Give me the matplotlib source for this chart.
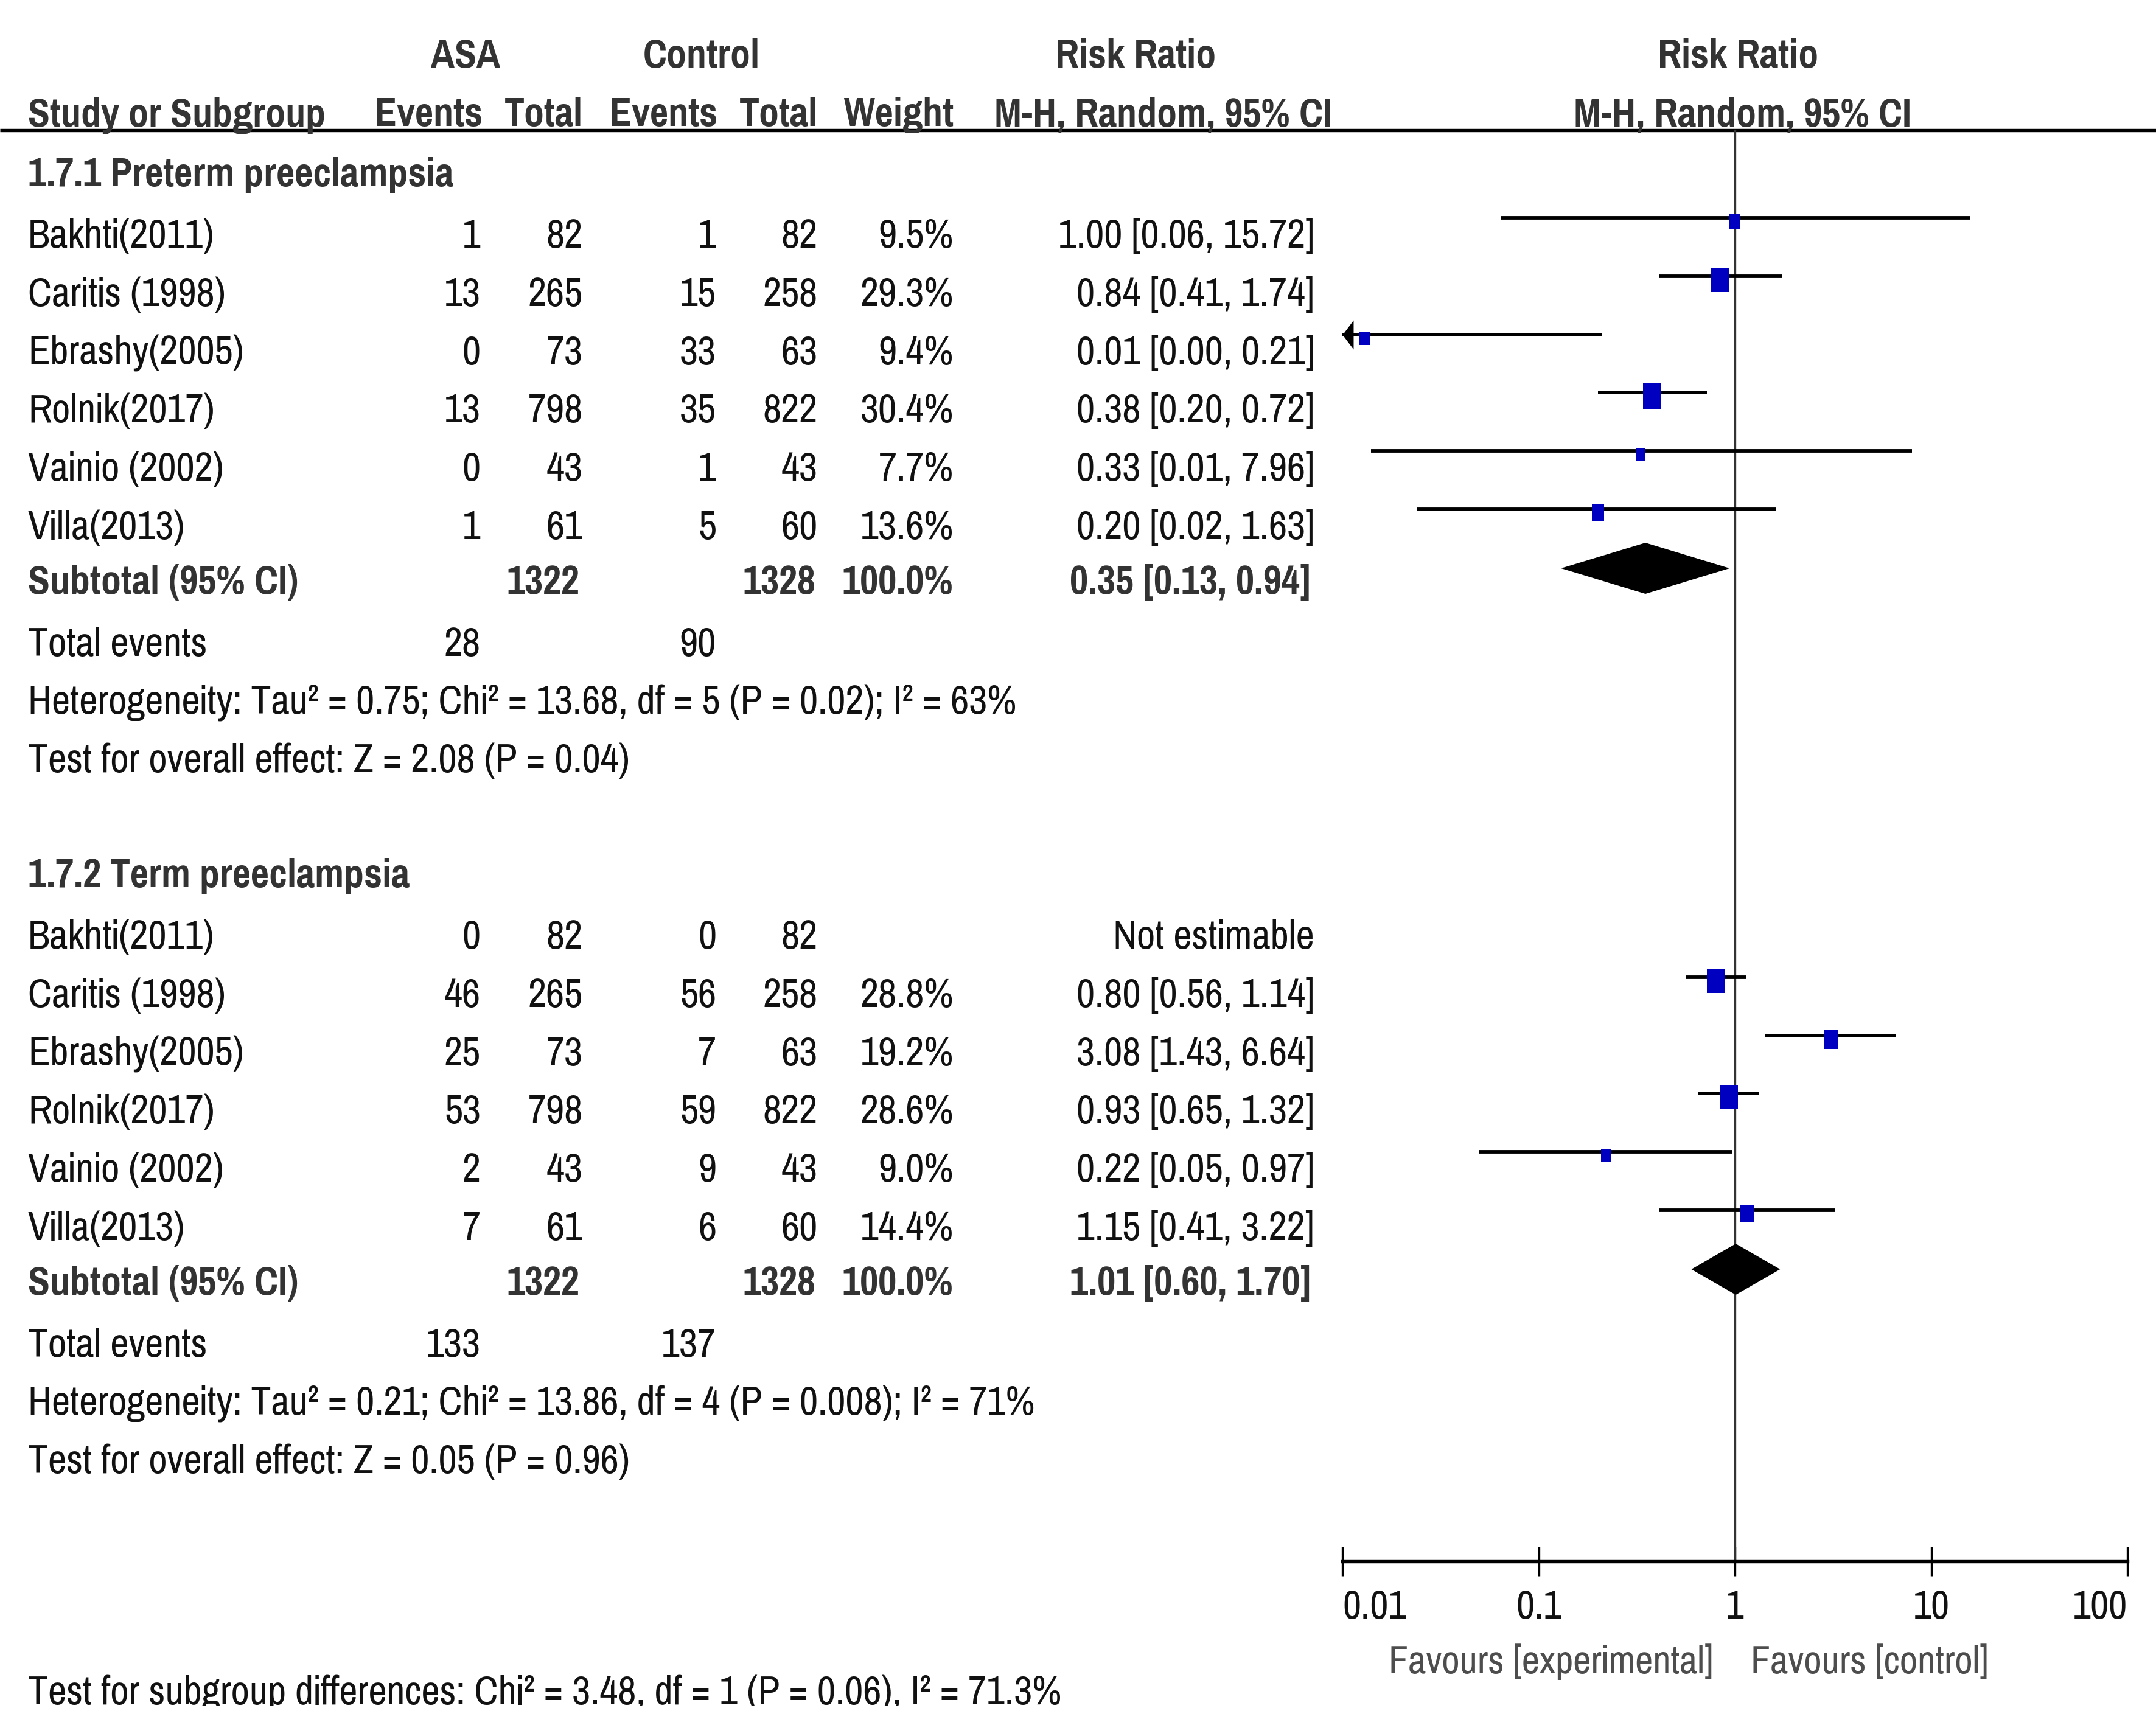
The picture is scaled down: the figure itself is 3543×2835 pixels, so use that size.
# forest plot: ASA vs control, preterm / term preeclampsia

import numpy as np
import matplotlib
matplotlib.use('Agg')
import matplotlib.pyplot as plt
from matplotlib.path import Path
from matplotlib.ticker import NullLocator

plt.rcParams['font.family'] = ['Pragati Narrow', 'DejaVu Sans']

# ---- data ----
studies = ['Bakhti(2011)', 'Caritis (1998)', 'Ebrashy(2005)', 'Rolnik(2017)', 'Vainio (2002)', 'Villa(2013)']
asa_total = [82, 265, 73, 798, 43, 61]
ctl_total = [82, 258, 63, 822, 43, 60]

pre_asa_events = [1, 13, 0, 13, 0, 1]
pre_ctl_events = [1, 15, 33, 35, 1, 5]
pre_weight = [9.5, 29.3, 9.4, 30.4, 7.7, 13.6]
pre_rr = [1.00, 0.84, 0.013, 0.38, 0.33, 0.20]
pre_lo = [0.064, 0.41, 0.00, 0.20, 0.014, 0.024]
pre_hi = [15.72, 1.74, 0.21, 0.72, 7.96, 1.63]
pre_sub = [0.35, 0.13, 0.94]
pre_het = 'Heterogeneity: Tau² = 0.75; Chi² = 13.68, df = 5 (P = 0.02); I² = 63%'
pre_test = 'Test for overall effect: Z = 2.08 (P = 0.04)'

term_asa_events = [0, 46, 25, 53, 2, 7]
term_ctl_events = [0, 56, 7, 59, 9, 6]
term_weight = [None, 28.8, 19.2, 28.6, 9.0, 14.4]
term_rr = [None, 0.80, 3.08, 0.93, 0.22, 1.15]
term_lo = [None, 0.56, 1.43, 0.65, 0.05, 0.41]
term_hi = [None, 1.14, 6.64, 1.32, 0.97, 3.22]
term_sub = [1.01, 0.60, 1.70]
term_het = 'Heterogeneity: Tau² = 0.21; Chi² = 13.86, df = 4 (P = 0.008); I² = 71%'
term_test = 'Test for overall effect: Z = 0.05 (P = 0.96)'

subgroup_test = 'Test for subgroup differences: Chi² = 3.48, df = 1 (P = 0.06), I² = 71.3%'

tick_vals = [0.01, 0.1, 1, 10, 100]
tick_labels = ['0.01', '0.1', '1', '10', '100']

# ---- layout (pixels from top-left) ----
W, H = 3543, 2835
clip_h = 2803
FS = 17.2
dark = '#333333'
ink = '#111111'
blue = '#0000c0'

col_name = 46
col_ae, col_at = 790, 958
col_ce, col_ct = 1177, 1344
col_w = 1567
col_rr = 2160
step = 95.8
base = 24   # cap centre -> baseline

fig = plt.figure(figsize=(W / 300, H / 300), dpi=300)
tab = fig.add_axes([0, 1 - clip_h / H, 1, clip_h / H])
tab.set_xlim(0, W)
tab.set_ylim(clip_h, 0)
tab.axis('off')

x0, x1 = 2206, 3496
fp = fig.add_axes([x0 / W, 0, (x1 - x0) / W, 1])
fp.set_xscale('log')
fp.set_xlim(0.01, 100)
fp.set_ylim(H, 0)
fp.patch.set_visible(False)
for s in ['top', 'left', 'right']:
    fp.spines[s].set_visible(False)
axis_y = 2566
fp.spines['bottom'].set_position(('data', axis_y))
fp.spines['bottom'].set_linewidth(1.3)
fp.set_xticks(tick_vals)
fp.xaxis.set_minor_locator(NullLocator())
fp.tick_params(axis='x', which='major', direction='inout', length=11.5, width=0.8, labelbottom=False)
fp.set_yticks([])
for v, lab, ha in zip(tick_vals, tick_labels, ['left', 'center', 'center', 'center', 'right']):
    fp.text(v, 2660, lab, ha=ha, va='baseline', fontsize=FS, color=ink)

fp.annotate('Favours [experimental]', xy=(1, 2750), xytext=(-8.4, 0), textcoords='offset points',
            ha='right', va='baseline', fontsize=FS * 0.97, color='#4d4d4d', annotation_clip=False)
fp.annotate('Favours [control]', xy=(1, 2750), xytext=(6.2, 0), textcoords='offset points',
            ha='left', va='baseline', fontsize=FS * 0.97, color='#4d4d4d', annotation_clip=False)

# header
hdr1, hdr2 = 111, 207
tab.text(765, hdr1, 'ASA', ha='center', va='baseline', fontsize=FS, weight='bold', color=dark)
tab.text(1153, hdr1, 'Control', ha='center', va='baseline', fontsize=FS, weight='bold', color=dark)
tab.text(1866, hdr1, 'Risk Ratio', ha='center', va='baseline', fontsize=FS, weight='bold', color=dark)
tab.text(2856, hdr1, 'Risk Ratio', ha='center', va='baseline', fontsize=FS, weight='bold', color=dark)
tab.text(col_name, hdr2, 'Study or Subgroup', ha='left', va='baseline', fontsize=FS, weight='bold', color=dark)
for x, t in [(793, 'Events'), (col_at, 'Total'), (1179, 'Events'), (col_ct, 'Total'), (col_w, 'Weight')]:
    tab.text(x, hdr2, t, ha='right', va='baseline', fontsize=FS, weight='bold', color=dark)
tab.text(1912, hdr2, 'M-H, Random, 95% CI', ha='center', va='baseline', fontsize=FS, weight='bold', color=dark)
tab.text(2864, hdr2, 'M-H, Random, 95% CI', ha='center', va='baseline', fontsize=FS, weight='bold', color=dark)
tab.plot([0, W], [214, 214], color='black', lw=1.3, solid_capstyle='butt')

# line of no effect
fp.plot([1, 1], [214, axis_y], color=dark, lw=0.8)

box = Path([(-0.75, -1), (0.75, -1), (0.75, 1), (-0.75, 1), (-0.75, -1)],
           [Path.MOVETO, Path.LINETO, Path.LINETO, Path.LINETO, Path.CLOSEPOLY])
arrow = Path([(0, 0), (0.75, 1), (0.75, -1), (0, 0)],
             [Path.MOVETO, Path.LINETO, Path.LINETO, Path.CLOSEPOLY])


def txt(x, y, s, ha='right', bold=False):
    tab.text(x, y + base, s, ha=ha, va='baseline', fontsize=FS,
             weight='bold' if bold else 'normal', color=dark if bold else ink)


def draw_group(y_head, title, ev_a, ev_c, weight, rr, lo, hi, sub, het, test):
    txt(col_name, y_head, title, ha='left', bold=True)
    y_rows = [y_head + 101 + step * i for i in range(len(studies))]
    for i, y in enumerate(y_rows):
        txt(col_name, y, studies[i], ha='left')
        txt(col_ae, y, str(ev_a[i]))
        txt(col_at, y, str(asa_total[i]))
        txt(col_ce, y, str(ev_c[i]))
        txt(col_ct, y, str(ctl_total[i]))
        if rr[i] is None:
            txt(col_rr, y, 'Not estimable')
            continue
        txt(col_w, y, '{:.1f}%'.format(weight[i]))
        txt(col_rr, y, '{:.2f} [{:.2f}, {:.2f}]'.format(rr[i], lo[i], hi[i]))
        left = max(lo[i], 0.01)
        fp.plot([left, hi[i]], [y - 25, y - 25], color='black', lw=1.4, solid_capstyle='butt')
        if lo[i] < 0.01:
            fp.scatter([0.01], [y - 25], marker=arrow, s=11.5 ** 2, color='black', lw=0, clip_on=False, zorder=3)
        h_pt = 9.84 * np.sqrt(weight[i] / 30.0)
        fp.scatter([rr[i]], [y - 19], marker=box, s=h_pt ** 2, color=blue, lw=0, zorder=4)
    y_sub = y_head + 670
    txt(col_name, y_sub, 'Subtotal (95% CI)', ha='left', bold=True)
    txt(col_at - 6, y_sub, str(sum(asa_total)), bold=True)
    txt(col_ct - 4, y_sub, str(sum(ctl_total)), bold=True)
    txt(col_w, y_sub, '100.0%', bold=True)
    txt(col_rr - 6, y_sub, '{:.2f} [{:.2f}, {:.2f}]'.format(*sub), bold=True)
    yc = y_sub - 18
    fp.fill([sub[1], sub[0], sub[2], sub[0]], [yc, yc - 42, yc, yc + 42], color='black', lw=0, zorder=3)
    txt(col_name, y_head + 772, 'Total events', ha='left')
    txt(col_ae, y_head + 772, str(sum(ev_a)))
    txt(col_ce, y_head + 772, str(sum(ev_c)))
    txt(col_name, y_head + 868, het, ha='left')
    txt(col_name, y_head + 963, test, ha='left')


draw_group(282, '1.7.1 Preterm preeclampsia', pre_asa_events, pre_ctl_events,
           pre_weight, pre_rr, pre_lo, pre_hi, pre_sub, pre_het, pre_test)
draw_group(1434, '1.7.2 Term preeclampsia', term_asa_events, term_ctl_events,
           term_weight, term_rr, term_lo, term_hi, term_sub, term_het, term_test)

tab.text(col_name, 2801, subgroup_test, ha='left', va='baseline', fontsize=FS, color=ink, clip_on=True)

fig.savefig('out.png', dpi=300, facecolor='white')
